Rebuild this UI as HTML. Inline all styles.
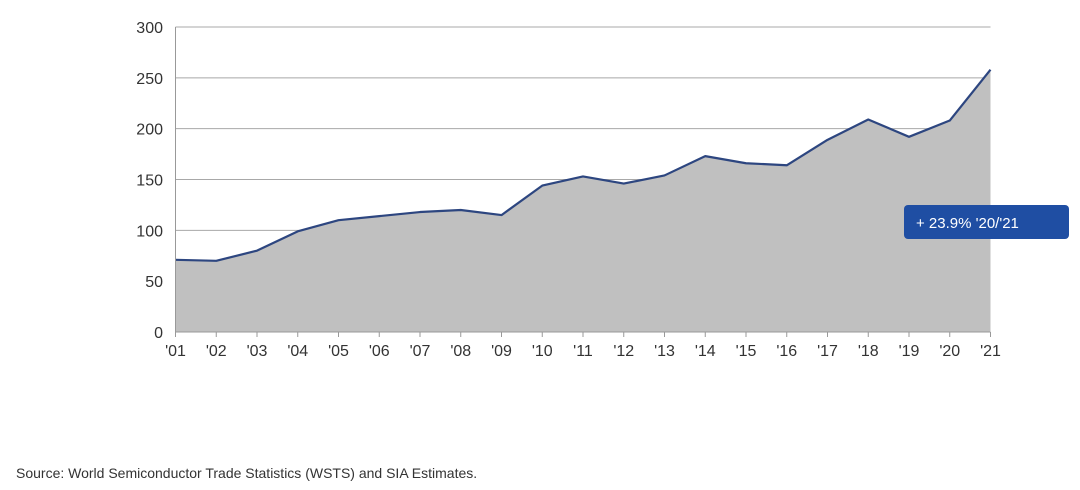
<!DOCTYPE html>
<html><head><meta charset="utf-8"><style>
body{margin:0;background:#fff;width:1080px;height:485px;overflow:hidden;font-family:"Liberation Sans","DejaVu Sans",sans-serif;}
</style></head><body>
<svg width="1080" height="485" viewBox="0 0 1080 485" xmlns="http://www.w3.org/2000/svg">
<g id="grid"></g>
<path id="area" fill="#c0c0c0"/>
<path id="line" fill="none" stroke="#2d4680" stroke-width="2.2" stroke-linejoin="round"/>
<g id="axes"></g>
<g>
<rect x="904" y="205" width="165" height="34" rx="4" fill="#1f4ea3"/>
<text x="916" y="228" font-size="15" fill="#fff">+ 23.9% '20/'21</text>
</g>
<text x="16" y="478" font-size="14" fill="#333">Source: World Semiconductor Trade Statistics (WSTS) and SIA Estimates.</text>
</svg>
<script>
const categories=["'01","'02","'03","'04","'05","'06","'07","'08","'09","'10","'11","'12","'13","'14","'15","'16","'17","'18","'19","'20","'21"];
const values=[71,70,80,99,110,114,118,120,115,144,153,146,154,173,166,164,189,209,192,208,258];
const yTicks=[0,50,100,150,200,250,300];
const NS="http://www.w3.org/2000/svg";
const x0=175.5,x1=990.5,y0=332,yTop=27;
const xs=i=>x0+(x1-x0)*i/(categories.length-1);
const ys=v=>y0-(y0-yTop)*v/300;
const grid=document.getElementById('grid'),axes=document.getElementById('axes');
function mk(tag,attrs,parent){const e=document.createElementNS(NS,tag);for(const k in attrs)e.setAttribute(k,attrs[k]);parent.appendChild(e);return e;}
yTicks.forEach(t=>{
 if(t>0){const l=mk('line',{x1:x0,x2:x1,y1:ys(t),y2:ys(t),stroke:'#a8a8a8','stroke-width':1},grid);
 
 }
 const tx=mk('text',{x:163,y:ys(t)+6,'font-size':16,'text-anchor':'end',fill:'#333'},axes);
 tx.textContent=t;
 
 
});
let d='';values.forEach((v,i)=>{d+=(i?'L':'M')+xs(i)+','+ys(v);});
document.getElementById('line').setAttribute('d',d);
document.getElementById('area').setAttribute('d',d+'L'+xs(values.length-1)+','+y0+'L'+x0+','+y0+'Z');
const ax=mk('line',{x1:x0,x2:x0,y1:yTop,y2:y0,stroke:'#999','stroke-width':1},axes);


const bx=mk('line',{x1:x0,x2:x1,y1:y0,y2:y0,stroke:'#999','stroke-width':1},axes);


categories.forEach((c,i)=>{
 mk('line',{x1:xs(i),x2:xs(i),y1:y0,y2:y0+5,stroke:'#999'},axes);
 const t=mk('text',{x:xs(i),y:356,'font-size':16,'text-anchor':'middle',fill:'#333'},axes);
 t.textContent=c;
 
 
});
</script>
</body></html>
